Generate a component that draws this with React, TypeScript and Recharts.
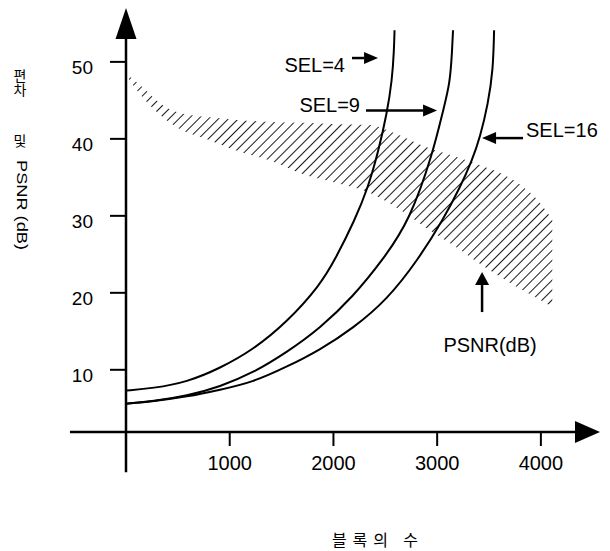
import React from 'react';
import { ComposedChart, Line, Area, XAxis, YAxis, ReferenceLine } from 'recharts';

// 블록의 수 (x) vs 편차 / PSNR (y)
const blocks4 = [0, 260, 588, 906, 1225, 1553, 1871, 2015, 2208, 2334, 2430, 2517, 2565, 2584, 2589];
const sel4 = [7.3, 7.6, 8.4, 10.2, 12.6, 16.2, 21.0, 24.3, 29.5, 33.7, 38.2, 43.4, 47.6, 51.5, 54.1];

const blocks9 = [0, 260, 588, 906, 1225, 1553, 1871, 2189, 2478, 2739, 2960, 3057, 3124, 3144, 3153];
const sel9 = [5.6, 5.9, 6.6, 7.8, 9.6, 12.3, 15.4, 19.5, 24.3, 29.5, 38.2, 43.7, 47.2, 51.5, 54.1];

const blocks16 = [0, 260, 588, 906, 1225, 1553, 1871, 2189, 2517, 2816, 3057, 3221, 3336, 3414, 3491, 3539, 3549];
const sel16 = [5.6, 5.9, 6.5, 7.4, 8.4, 10.4, 12.6, 15.4, 19.1, 24.3, 29.5, 33.7, 37.2, 40.2, 44.6, 48.9, 54.1];

// PSNR band (hatched)
const psnrBlocks = [0, 160, 330, 490, 810, 1130, 1390, 1730, 2020, 2350, 2580, 2900, 3220, 3430, 3700, 3990, 4110];
const psnrHigh = [48.5, 46.7, 44.6, 43.5, 42.8, 42.4, 42.2, 42.1, 41.9, 41.8, 40.8, 38.9, 37.5, 36.5, 34.9, 31.7, 29.5];
const psnrLow = [48.3, 45.4, 43.1, 41.5, 39.8, 38.2, 37.2, 35.3, 34.3, 33.0, 31.3, 28.4, 25.6, 23.6, 21.3, 19.1, 18.2];

const xTicks = [1000, 2000, 3000, 4000];
const yTicks = [10, 20, 30, 40, 50];

const X_DOMAIN: [number, number] = [0, 4570];
const Y_DOMAIN: [number, number] = [1.92, 57];

const toSeries = (xs: number[], ys: number[]) => xs.map((x, i) => ({ x, v: ys[i] }));
const sel4Data = toSeries(blocks4, sel4);
const sel9Data = toSeries(blocks9, sel9);
const sel16Data = toSeries(blocks16, sel16);
const bandData = psnrBlocks.map((x, i) => ({ x, range: [psnrLow[i], psnrHigh[i]] }));

const FONT = '"Liberation Sans", Arial, Helvetica, sans-serif';
const KFONT = '"Noto Sans CJK KR", "Noto Sans", sans-serif';

type Note = { text: string; dx: number; dy: number; anchor: 'start' | 'middle' | 'end' };

const makeArrow = (head: number, half: number, width: number, note?: Note) => (p: any) => {
  const { x1, y1, x2, y2 } = p;
  const len = Math.hypot(x2 - x1, y2 - y1) || 1;
  const ux = (x2 - x1) / len;
  const uy = (y2 - y1) / len;
  const bx = x2 - ux * head;
  const by = y2 - uy * head;
  return (
    <g>
      <line x1={x1} y1={y1} x2={bx} y2={by} stroke="#000" strokeWidth={width} />
      <polygon
        points={`${x2},${y2} ${bx - uy * half},${by + ux * half} ${bx + uy * half},${by - ux * half}`}
        fill="#000"
      />
      {note && (
        <text x={x1 + note.dx} y={y1 + note.dy} textAnchor={note.anchor} fontFamily={FONT} fontSize={20} fill="#000">
          {note.text}
        </text>
      )}
    </g>
  );
};

const XTick = ({ x, y, payload }: any) => (
  <text x={x} y={y} dy="0.71em" textAnchor="middle" fontFamily={FONT} fontSize={20} fill="#000">
    {payload.value}
  </text>
);

const YTick = ({ x, y, payload }: any) => (
  <text x={x} y={y + 6} dominantBaseline="central" textAnchor="end" fontFamily={FONT} fontSize={19} fill="#000">
    {payload.value}
  </text>
);

const YTitle = () => (
  <g fill="#000">
    <text x={20} y={69} fontFamily={KFONT} fontSize={14} style={{ writingMode: 'vertical-rl' }}>
      편차
    </text>
    <text x={20} y={140} textAnchor="middle" dominantBaseline="central" fontFamily={KFONT} fontSize={14}>
      및
    </text>
    <text
      transform="translate(22,205) rotate(90)"
      textAnchor="middle"
      dominantBaseline="central"
      fontFamily={FONT}
      fontSize={14}
      textLength={90}
      lengthAdjust="spacingAndGlyphs"
    >
      PSNR (dB)
    </text>
  </g>
);

const XTitle = () => (
  <text x={375} y={546} textAnchor="middle" fontFamily={KFONT} fontSize={16} fill="#000" textLength={86} lengthAdjust="spacing">
    블록의 수
  </text>
);

const App = () => {
  return (
    <div style={{ position: 'absolute', left: 0, top: 0, background: '#fff' }}>
      <ComposedChart width={610} height={551} margin={{ top: 8, right: 10, bottom: 79, left: 66 }}>
        <defs>
          <pattern id="hatch" patternUnits="userSpaceOnUse" width="7" height="7" patternTransform="rotate(45)">
            <line x1="0" y1="0" x2="0" y2="7" stroke="#000" strokeWidth="1.8" />
          </pattern>
        </defs>
        <XAxis
          type="number"
          dataKey="x"
          domain={X_DOMAIN}
          allowDataOverflow
          ticks={xTicks}
          interval={0}
          axisLine={false}
          tickLine={{ stroke: '#000', strokeWidth: 2 }}
          tickSize={14}
          tickMargin={10}
          height={40}
          tick={<XTick />}
          label={<XTitle />}
        />
        <YAxis
          type="number"
          domain={Y_DOMAIN}
          allowDataOverflow
          ticks={yTicks}
          interval={0}
          axisLine={false}
          tickLine={{ stroke: '#000', strokeWidth: 2 }}
          tickSize={16}
          tickMargin={17}
          width={60}
          tick={<YTick />}
          label={<YTitle />}
        />
        <Area
          data={bandData}
          dataKey="range"
          type="monotone"
          stroke="none"
          fill="url(#hatch)"
          fillOpacity={1}
          activeDot={false}
          isAnimationActive={false}
        />
        <Line data={sel4Data} dataKey="v" type="basis" stroke="#000" strokeWidth={2} dot={false} isAnimationActive={false} />
        <Line data={sel9Data} dataKey="v" type="basis" stroke="#000" strokeWidth={2} dot={false} isAnimationActive={false} />
        <Line data={sel16Data} dataKey="v" type="basis" stroke="#000" strokeWidth={2} dot={false} isAnimationActive={false} />

        {/* axes with arrow heads */}
        <ReferenceLine segment={[{ x: -540, y: 1.92 }, { x: 4570, y: 1.92 }]} ifOverflow="visible" shape={makeArrow(25, 11, 2.5)} />
        <ReferenceLine segment={[{ x: 0, y: -3.3 }, { x: 0, y: 57 }]} ifOverflow="visible" shape={makeArrow(31, 10.5, 2.5)} />

        {/* annotations */}
        <ReferenceLine
          segment={[{ x: 2179, y: 50.5 }, { x: 2430, y: 50.5 }]}
          ifOverflow="visible"
          shape={makeArrow(14, 6, 2.5, { text: 'SEL=4', dx: -7, dy: 14, anchor: 'end' })}
        />
        <ReferenceLine
          segment={[{ x: 2314, y: 43.7 }, { x: 2999, y: 43.7 }]}
          ifOverflow="visible"
          shape={makeArrow(14, 6, 2.5, { text: 'SEL=9', dx: -6, dy: 2, anchor: 'end' })}
        />
        <ReferenceLine
          segment={[{ x: 3828, y: 40.1 }, { x: 3433, y: 40.1 }]}
          ifOverflow="visible"
          shape={makeArrow(14, 6, 2.5, { text: 'SEL=16', dx: 3, dy: -1, anchor: 'start' })}
        />
        <ReferenceLine
          segment={[{ x: 3433, y: 17.5 }, { x: 3433, y: 22.7 }]}
          ifOverflow="visible"
          shape={makeArrow(13, 7, 2.5, { text: 'PSNR(dB)', dx: 8, dy: 40, anchor: 'middle' })}
        />
      </ComposedChart>
    </div>
  );
};

export default App;
